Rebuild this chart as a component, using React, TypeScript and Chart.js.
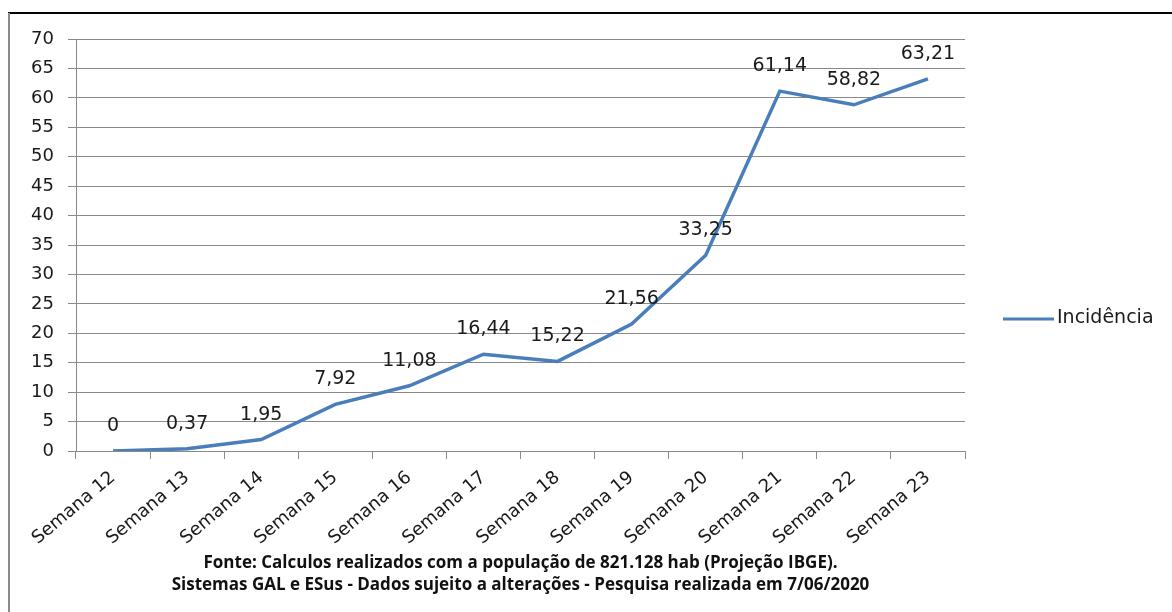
import React, { useEffect, useRef } from "react";
import { Chart, registerables } from "chart.js";

Chart.register(...registerables);

const categories = [
  "Semana 12", "Semana 13", "Semana 14", "Semana 15", "Semana 16", "Semana 17",
  "Semana 18", "Semana 19", "Semana 20", "Semana 21", "Semana 22", "Semana 23",
];
const incidencia = [0, 0.37, 1.95, 7.92, 11.08, 16.44, 15.22, 21.56, 33.25, 61.14, 58.82, 63.21];
const seriesName = "Incidência";
const footerLines = [
  "Fonte: Calculos realizados com a população de 821.128 hab (Projeção IBGE).",
  "Sistemas GAL e ESus - Dados sujeito a alterações - Pesquisa realizada em 7/06/2020",
];
const lineColor = "#4A7EBB";
const FONT = "'DejaVu Sans', sans-serif";
const FOOT_FONT = "'Open Sans', sans-serif";

const fmt = (v: number) => v.toFixed(2).replace(/\.?0+$/, "").replace(".", ",");

const decorPlugin = {
  id: "decor",
  afterDraw(chart: any) {
    const ctx = chart.ctx;
    const meta = chart.getDatasetMeta(0);
    ctx.save();
    // frame lines
    ctx.strokeStyle = "#000";
    ctx.lineWidth = 2;
    ctx.beginPath();
    ctx.moveTo(8, 13);
    ctx.lineTo(1172, 13);
    ctx.stroke();
    ctx.strokeStyle = "#8a8a8a";
    ctx.beginPath();
    ctx.moveTo(9, 13);
    ctx.lineTo(9, 612);
    ctx.stroke();
    // data labels
    ctx.fillStyle = "#1a1a1a";
    ctx.font = `19px ${FONT}`;
    ctx.textAlign = "center";
    ctx.textBaseline = "alphabetic";
    meta.data.forEach((pt: any, i: number) => {
      ctx.fillText(fmt(incidencia[i]), pt.x, pt.y - 20);
    });
    // legend
    const ly = 319;
    ctx.strokeStyle = lineColor;
    ctx.lineWidth = 3;
    ctx.beginPath();
    ctx.moveTo(1003, ly);
    ctx.lineTo(1054, ly);
    ctx.stroke();
    ctx.fillStyle = "#1a1a1a";
    ctx.font = `19px ${FONT}`;
    ctx.textAlign = "left";
    ctx.textBaseline = "middle";
    ctx.fillText(seriesName, 1057, ly - 1);
    // footer
    ctx.font = `bold 17px ${FOOT_FONT}`;
    ctx.textAlign = "center";
    ctx.textBaseline = "alphabetic";
    ctx.fillStyle = "#111";
    const cx = (chart.chartArea.left + chart.chartArea.right) / 2;
    ctx.fillText(footerLines[0], cx, 568);
    ctx.fillText(footerLines[1], cx, 590);
    ctx.restore();
  },
};

export default function App() {
  const ref = useRef<HTMLCanvasElement>(null);
  useEffect(() => {
    if (!ref.current) return;
    const chart = new Chart(ref.current, {
      type: "line",
      data: {
        labels: categories,
        datasets: [
          {
            label: seriesName,
            data: incidencia,
            borderColor: lineColor,
            backgroundColor: lineColor,
            borderWidth: 3.5,
            pointRadius: 0,
            tension: 0,
          },
        ],
      },
      options: {
        responsive: false,
        animation: false,
        layout: { padding: { left: 0, right: 207, top: 39, bottom: 0 } },
        plugins: { legend: { display: false }, tooltip: { enabled: false } },
        scales: {
          x: {
            offset: true,
            grid: {
              offset: true,
              drawOnChartArea: false,
              drawTicks: true,
              tickLength: 8,
              color: "#8a8a8a",
            },
            border: { color: "#8a8a8a" },
            ticks: {
              maxRotation: 40,
              minRotation: 40,
              color: "#1a1a1a",
              font: { family: FONT, size: 18 },
              padding: 8,
            },
            afterFit(scale: any) {
              scale.height = 161;
            },
          },
          y: {
            min: 0,
            max: 70,
            ticks: {
              stepSize: 5,
              color: "#1a1a1a",
              font: { family: FONT, size: 18 },
              padding: 14,
            },
            grid: { color: "#8a8a8a", tickLength: 8 },
            border: { color: "#8a8a8a" },
            afterFit(scale: any) {
              scale.width = 76;
            },
          },
        },
      },
      plugins: [decorPlugin],
    });
    return () => chart.destroy();
  }, []);
  return (
    <canvas
      ref={ref}
      width={1172}
      height={612}
      style={{ position: "absolute", left: 0, top: 0, background: "#fff" }}
    />
  );
}
